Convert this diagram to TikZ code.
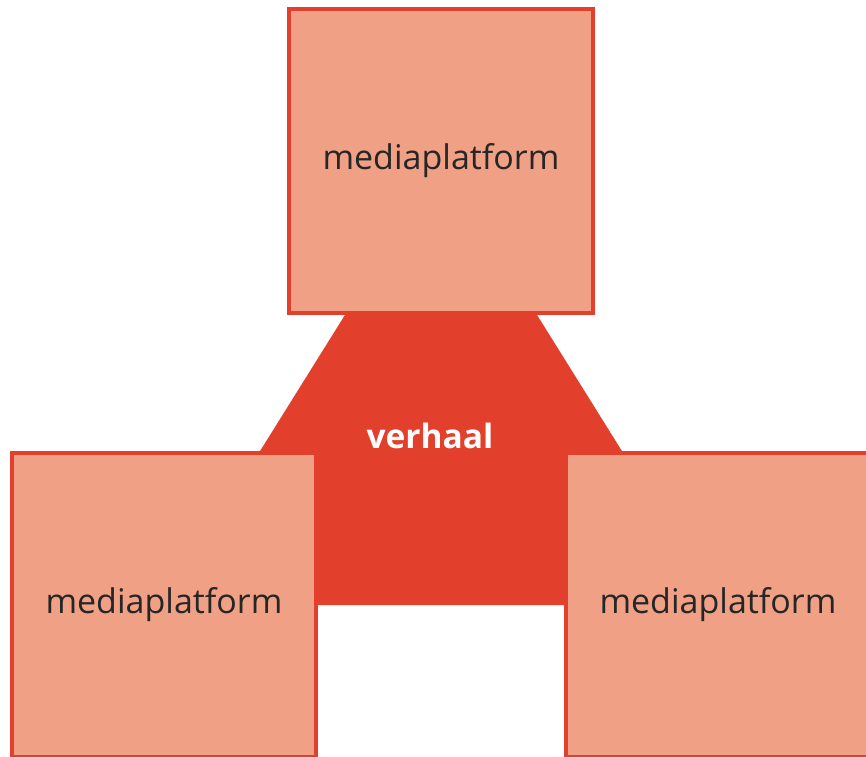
\documentclass[tikz,border=0pt]{standalone}
\usepackage{fontspec}
\setmainfont{Open Sans}
\definecolor{storyred}{RGB}{226,64,44}
\definecolor{platformfill}{RGB}{240,160,132}
\begin{document}
\begin{tikzpicture}[x=1pt,y=-1pt,platform/.style={draw=storyred,fill=platformfill,line
        width=4pt,minimum size=304pt,inner sep=0pt,text=black!85,font=\fontsize{34}{40}\selectfont}]
    \tikzstyle{story}=[text=white,inner sep=0pt,font=\fontsize{33.5}{40}\selectfont\bfseries]

    \clip (0,0) rectangle (866,756);
    \coordinate (ptop) at (441,161);
    \coordinate (pleft) at (164,605);
    \coordinate (pright) at (718,605);

    \fill[storyred] (ptop) -- (pleft) -- (pright) -- cycle;

    \node[platform] (top) at (ptop) {mediaplatform};
    \node[platform] (left) at (pleft) {mediaplatform};
    \node[platform] (right) at (pright) {mediaplatform};
    \node[story] (verhaal) at (430,436) {verhaal};

  \end{tikzpicture}
\end{document}
